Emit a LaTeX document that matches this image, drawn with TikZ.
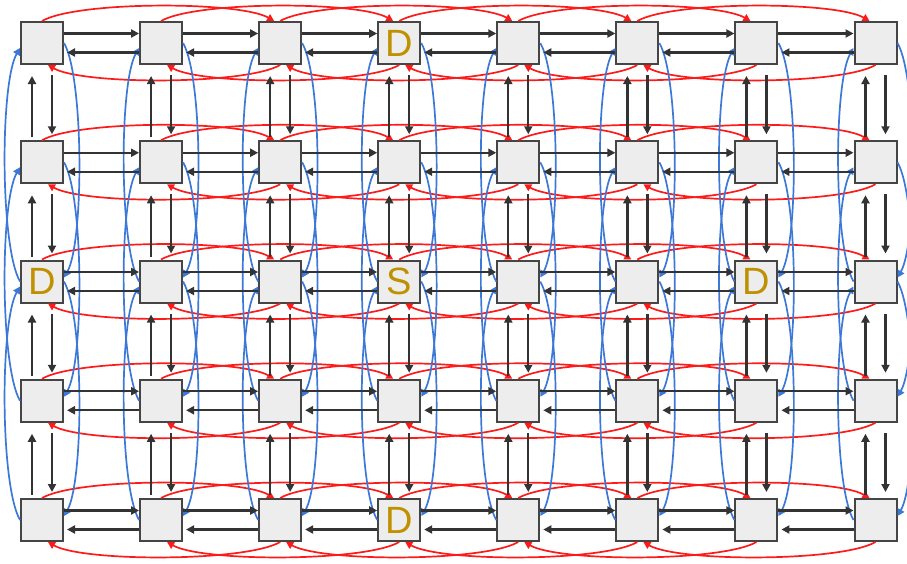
\documentclass[tikz,border=0pt]{standalone}
\usepackage{fontspec}
\setmainfont{Liberation Sans}
\usetikzlibrary{arrows.meta}
\definecolor{redc}{HTML}{FF1A1A}
\definecolor{bluec}{HTML}{3C78D8}
\definecolor{goldc}{HTML}{BF9000}
\definecolor{boxfill}{HTML}{EDEDED}
\definecolor{boxline}{HTML}{454545}
\begin{document}
\begin{tikzpicture}[x=1pt,y=1pt,
  cell/.style={draw=boxline, fill=boxfill, line width=2pt, minimum size=42pt, inner sep=0pt},
  lbl/.style={inner sep=0pt, font=\fontsize{38}{38}\selectfont, text=goldc},
  blk/.style={line width=2.3pt, draw=black!80, -{Triangle[length=8pt,width=8pt]}},
  redarr/.style={line width=1.7pt, draw=redc, -{Triangle[length=7pt,width=7.5pt]}},
  bluearr/.style={line width=1.7pt, draw=bluec, -{Triangle[length=7pt,width=7.5pt]}},
]
\useasboundingbox (0,0) rectangle (907,-563);
% cells
\foreach \i in {0,...,7}{
  \foreach \j in {0,...,4}{
    \node[cell] (n\i\j) at ({42+119.07*\i},{-43-119.25*\j}) {};
  }
}
% labels
\node[lbl] (t30) at (n30) {D};
\node[lbl] (t02) at (n02) {D};
\node[lbl] (t32) at (n32) {S};
\node[lbl] (t62) at (n62) {D};
\node[lbl] (t34) at (n34) {D};
% red horizontal skip connections
\foreach \i [evaluate=\i as \k using int(\i+2)] in {0,...,5}{
  \foreach \j in {0,...,4}{
    \draw[redarr] (n\i\j.north) .. controls +(30:40) and +(150:40) .. ([xshift=-6pt]n\k\j.north);
    \draw[redarr] (n\k\j.south) .. controls +(210:40) and +(-30:40) .. ([xshift=6pt]n\i\j.south);
  }
}
% blue vertical skip connections
\foreach \i in {0,...,7}{
  \foreach \j [evaluate=\j as \m using int(\j+2)] in {0,...,2}{
    \draw[bluearr] (n\i\m.west) .. controls +(120:40) and +(240:40) .. ([yshift=-5pt]n\i\j.west);
    \draw[bluearr] (n\i\j.east) .. controls +(-60:40) and +(60:40) .. ([yshift=4pt]n\i\m.east);
  }
}
% black horizontal neighbours
\foreach \i [evaluate=\i as \k using int(\i+1)] in {0,...,6}{
  \foreach \j in {0,...,4}{
    \draw[blk] ([yshift=9.5pt]n\i\j.east) -- ([yshift=9.5pt]n\k\j.west);
    \draw[blk,shorten >=3pt] ([yshift=-9.5pt]n\k\j.west) -- ([yshift=-9.5pt]n\i\j.east);
  }
}
% black vertical neighbours
\foreach \i in {0,...,7}{
  \foreach \j [evaluate=\j as \m using int(\j+1)] in {0,...,3}{
    \draw[blk] ([xshift=-10pt,yshift=3pt]n\i\m.north) -- ([xshift=-10pt,yshift=-11pt]n\i\j.south);
    \draw[blk] ([xshift=10pt,yshift=-10pt]n\i\j.south) -- ([xshift=10pt,yshift=6pt]n\i\m.north);
  }
}
\end{tikzpicture}
\end{document}
